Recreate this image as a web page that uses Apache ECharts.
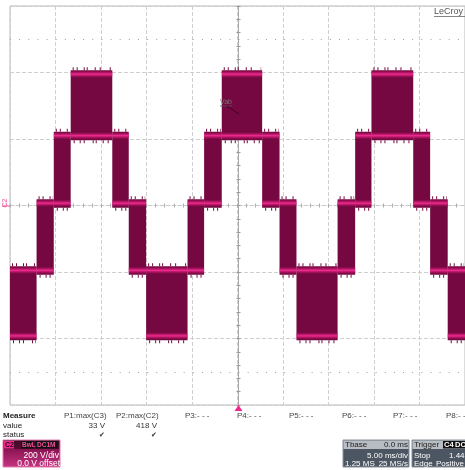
<!DOCTYPE html>
<html>
<head>
<meta charset="utf-8">
<script src="https://cdn.jsdelivr.net/npm/echarts@6/dist/echarts.min.js"></script>
<style>
html,body{margin:0;padding:0;background:#fff;}
#c{width:465px;height:470px;}
</style>
</head>
<body>
<div id="c"></div>
<script>
// ---- data (time in ms, voltage in V) ----
const segStart = [-25, -22.08, -20.19, -18.33, -13.76, -11.95, -10.04, -5.49, -3.67, -1.73, 2.71, 4.62, 6.48, 11.0, 12.93, 14.72, 19.31, 21.17, 23.1];
const segEnd   = [-22.08, -20.19, -18.33, -13.76, -11.95, -10.04, -5.49, -3.67, -1.73, 2.71, 4.62, 6.48, 11.0, 12.93, 14.72, 19.31, 21.17, 23.1, 25];
// switching levels: +2 ≈ 395 V, +1 ≈ 210 V, 0 ≈ 7 V, -1 ≈ -195 V, -2 ≈ -392 V
const segLow   = [-392, -195, 7, 210, 7, -195, -392, -195, 7, 210, 7, -195, -392, -195, 7, 210, 7, -195, -392];
const segHigh  = [-195, 7, 210, 395, 210, 7, -195, 7, 210, 395, 210, 7, -195, 7, 210, 395, 210, 7, -195];
const dottedLevels = [500, -500];
const measureNames = ['P1:max(C3)', 'P2:max(C2)', 'P3:- - -', 'P4:- - -', 'P5:- - -', 'P6:- - -', 'P7:- - -', 'P8:- - -'];
const measureValues = ['33 V', '418 V'];

const DARK = '#760841';
const segData = segStart.map((s, i) => [s, segEnd[i], segLow[i], segHigh[i]]);

function renderFill(params, api) {
  const t0 = api.value(0), t1 = api.value(1), lo = api.value(2), hi = api.value(3);
  const a = api.coord([t0, hi]), b = api.coord([t1, lo]);
  const x = a[0], w = b[0] - a[0];
  const yTop = a[1] - 4, yBot = b[1] + 4.5;
  return {
    type: 'group',
    children: [
      {type: 'rect', shape: {x: x, y: yTop, width: w, height: yBot - yTop}, style: {fill: DARK}},
      {type: 'line', shape: {x1: x + 2, y1: yTop - 1.5, x2: x + w - 1, y2: yTop - 1.5},
        style: {stroke: DARK, lineWidth: 3, lineDash: [1, 3, 1, 6, 1, 2, 1, 7, 1, 4, 1, 9]}},
      {type: 'line', shape: {x1: x + 3, y1: yBot + 1.5, x2: x + w - 1, y2: yBot + 1.5},
        style: {stroke: DARK, lineWidth: 3, lineDash: [1, 5, 1, 3, 1, 8, 1, 2, 1, 6, 1, 4]}}
    ]
  };
}
function bandRect(x, w, c) {
  return {
    type: 'rect', shape: {x: x, y: c - 3.5, width: w, height: 7},
    style: {fill: new echarts.graphic.LinearGradient(0, 0, 0, 1, [
      {offset: 0, color: 'rgba(200,20,110,0)'},
      {offset: 0.3, color: 'rgba(222,30,125,0.65)'},
      {offset: 0.5, color: 'rgba(245,48,150,0.95)'},
      {offset: 0.7, color: 'rgba(222,30,125,0.65)'},
      {offset: 1, color: 'rgba(200,20,110,0)'}
    ])}
  };
}
function renderBands(params, api) {
  const t0 = api.value(0), t1 = api.value(1), lo = api.value(2), hi = api.value(3);
  const a = api.coord([t0, hi]), b = api.coord([t1, lo]);
  const x = a[0], w = b[0] - a[0];
  return {type: 'group', children: [bandRect(x, w, a[1]), bandRect(x, w, b[1])]};
}

const chart = echarts.init(document.getElementById('c'), null, {renderer: 'canvas'});
const FONT = 'Liberation Sans, Arial, sans-serif';

function txt(x, y, s, opt) {
  return Object.assign({type: 'text', x: x, y: y, silent: true, z: 100,
    style: Object.assign({text: s, fill: '#333', font: '8px ' + FONT, textVerticalAlign: 'middle'}, opt || {})});
}
function shape(o) { o.z = 100; o.silent = true; return o; }

const graphics = [];
// LeCroy
graphics.push(txt(434, 12, 'LeCroy', {fill: '#555', font: '9px ' + FONT}));
graphics.push(shape({type: 'line', shape: {x1: 434, y1: 16.5, x2: 466, y2: 16.5}, style: {stroke: '#666', lineWidth: 0.8}}));
// C2 marker on left
graphics.push({type: 'text', x: 5.5, y: 203, rotation: Math.PI / 2, z: 100, style: {text: 'C2', fill: '#f0509a', font: '7px ' + FONT, textAlign: 'center', textVerticalAlign: 'middle'}});
graphics.push(shape({type: 'line', shape: {x1: 2, y1: 206, x2: 10, y2: 206}, style: {stroke: '#f0509a', lineWidth: 1}}));
// Vab label
graphics.push(txt(220, 102, 'Vab', {fill: '#777', font: '7px ' + FONT}));
graphics.push(shape({type: 'line', shape: {x1: 220, y1: 106, x2: 232, y2: 106}, style: {stroke: '#555', lineWidth: 0.8}}));
graphics.push(shape({type: 'line', shape: {x1: 227, y1: 106, x2: 239, y2: 114}, style: {stroke: '#2a0016', lineWidth: 0.8}}));
// trigger marker
graphics.push(shape({type: 'polygon', shape: {points: [[238.5, 405], [234.5, 411], [242.5, 411]]}, style: {fill: '#f0288c'}}));
// measure table
graphics.push(txt(3, 416, 'Measure', {fill: '#222', font: 'bold 8px ' + FONT}));
graphics.push(txt(3, 425.5, 'value', {fill: '#222'}));
graphics.push(txt(3, 434.5, 'status', {fill: '#222'}));
const mx = [64, 116, 185, 237, 289, 342, 393, 446];
measureNames.forEach((n, i) => graphics.push(txt(mx[i], 416, n, {fill: '#444'})));
graphics.push(txt(105, 425.5, measureValues[0], {textAlign: 'right', fill: '#333'}));
graphics.push(txt(157, 425.5, measureValues[1], {textAlign: 'right', fill: '#333'}));
graphics.push(txt(102, 435, '\u2714', {textAlign: 'center', fill: '#333', font: '7px DejaVu Sans'}));
graphics.push(txt(154, 435, '\u2714', {textAlign: 'center', fill: '#333', font: '7px DejaVu Sans'}));
// C2 box
graphics.push(shape({type: 'rect', shape: {x: 3, y: 440, width: 57, height: 27}, style: {
  fill: new echarts.graphic.LinearGradient(0, 0, 0, 1, [
    {offset: 0, color: '#3c0a24'}, {offset: 0.33, color: '#5a0c34'}, {offset: 0.34, color: '#8a1452'}, {offset: 1, color: '#c83482'}]),
  stroke: '#e27ab0', lineWidth: 1}}));
graphics.push(shape({type: 'rect', shape: {x: 4, y: 441, width: 10, height: 7.5}, style: {fill: '#f0288c'}}));
graphics.push(txt(5, 445, 'C2', {fill: '#2a0016', font: 'bold 7px ' + FONT}));
graphics.push(shape({type: 'rect', shape: {x: 21, y: 441, width: 13, height: 7.5}, style: {fill: '#111'}}));
graphics.push(shape({type: 'rect', shape: {x: 35.5, y: 441, width: 22.5, height: 7.5}, style: {fill: '#111'}}));
graphics.push(txt(22, 445, 'BwL', {fill: '#f0509a', font: 'bold 6.5px ' + FONT}));
graphics.push(txt(37, 445, 'DC1M', {fill: '#f0509a', font: 'bold 6.5px ' + FONT}));
graphics.push(txt(59, 455.5, '200 V/div', {fill: '#fff', textAlign: 'right', font: '8.5px ' + FONT}));
graphics.push(txt(60, 464, '0.0 V offset', {fill: '#fff', textAlign: 'right', font: '8.5px ' + FONT}));
// Tbase box
graphics.push(shape({type: 'rect', shape: {x: 343, y: 440, width: 66, height: 27}, style: {fill: '#4c5662', stroke: '#8a929c', lineWidth: 1}}));
graphics.push(shape({type: 'rect', shape: {x: 343.5, y: 440.5, width: 65, height: 8.5}, style: {fill: '#b8bdc3'}}));
graphics.push(txt(345, 445, 'Tbase', {fill: '#222', font: '8px ' + FONT}));
graphics.push(txt(408, 445, '0.0 ms', {fill: '#222', textAlign: 'right', font: '8px ' + FONT}));
graphics.push(txt(408, 455.5, '5.00 ms/div', {fill: '#fff', textAlign: 'right', font: '8px ' + FONT}));
graphics.push(txt(345, 464, '1.25 MS', {fill: '#fff', font: '8px ' + FONT}));
graphics.push(txt(408, 464, '25 MS/s', {fill: '#fff', textAlign: 'right', font: '8px ' + FONT}));
// Trigger box
graphics.push(shape({type: 'rect', shape: {x: 412, y: 440, width: 60, height: 27}, style: {fill: '#4c5662', stroke: '#8a929c', lineWidth: 1}}));
graphics.push(shape({type: 'rect', shape: {x: 412.5, y: 440.5, width: 59, height: 8.5}, style: {fill: '#b8bdc3'}}));
graphics.push(txt(414, 445, 'Trigger', {fill: '#222', font: '8px ' + FONT}));
graphics.push(shape({type: 'rect', shape: {x: 443, y: 441, width: 23, height: 7.5}, style: {fill: '#111'}}));
graphics.push(txt(444, 445, 'C4', {fill: '#fff', font: 'bold 7.5px ' + FONT}));
graphics.push(txt(455, 445, 'DC', {fill: '#fff', font: 'bold 7.5px ' + FONT}));
graphics.push(txt(414, 455.5, 'Stop', {fill: '#fff', font: '8px ' + FONT}));
graphics.push(txt(449, 455.5, '1.44 A', {fill: '#fff', font: '8px ' + FONT}));
graphics.push(txt(414, 464, 'Edge', {fill: '#fff', font: '8px ' + FONT}));
graphics.push(txt(436, 464, 'Positive', {fill: '#fff', font: '8px ' + FONT}));

const hiddenAxis = {axisLabel: {show: false}, splitLine: {show: false}};
chart.setOption({
  animation: false,
  backgroundColor: '#fff',
  grid: {left: 10, top: 6, width: 457, height: 399, show: true, borderColor: '#b8b8b8', borderWidth: 1},
  xAxis: [
    {type: 'value', min: -25, max: 25, interval: 5, axisLine: {show: false}, axisTick: {show: false}, axisLabel: {show: false},
      splitLine: {show: true, lineStyle: {color: '#cfcfcf', type: [4, 2]}}},
    Object.assign({type: 'value', min: -25, max: 25, interval: 5, position: 'bottom', offset: -199.5,
      axisLine: {show: true, onZero: false, lineStyle: {color: '#c8c8c8', type: [4, 2]}},
      axisTick: {show: true, inside: true, length: 2, lineStyle: {color: '#aaa'}},
      minorTick: {show: true, splitNumber: 5, length: 2, lineStyle: {color: '#aaa'}}}, hiddenAxis),
    Object.assign({type: 'value', min: -25, max: 25, interval: 5, position: 'bottom', offset: -199.5,
      axisLine: {show: false, onZero: false},
      axisTick: {show: true, inside: false, length: 2, lineStyle: {color: '#aaa'}},
      minorTick: {show: true, splitNumber: 5, length: 2, lineStyle: {color: '#aaa'}}}, hiddenAxis)
  ],
  yAxis: [
    {type: 'value', min: -600, max: 600, interval: 200, axisLine: {show: false}, axisTick: {show: false}, axisLabel: {show: false},
      splitLine: {show: true, lineStyle: {color: '#cfcfcf', type: [4, 2]}}},
    Object.assign({type: 'value', min: -600, max: 600, interval: 200, position: 'left', offset: -228.5,
      axisLine: {show: true, onZero: false, lineStyle: {color: '#a8a8a8'}},
      axisTick: {show: true, inside: true, length: 2, lineStyle: {color: '#999'}},
      minorTick: {show: true, splitNumber: 5, length: 2, lineStyle: {color: '#999'}}}, hiddenAxis),
    Object.assign({type: 'value', min: -600, max: 600, interval: 200, position: 'left', offset: -228.5,
      axisLine: {show: false, onZero: false},
      axisTick: {show: true, inside: false, length: 2, lineStyle: {color: '#999'}},
      minorTick: {show: true, splitNumber: 5, length: 2, lineStyle: {color: '#999'}}}, hiddenAxis)
  ],
  series: [
    {type: 'custom', name: 'fill', renderItem: renderFill, data: segData, clip: true, silent: true, z: 3,
      markLine: {silent: true, symbol: 'none', label: {show: false}, animation: false,
        lineStyle: {color: '#a0a0a0', type: [1, 8.14], width: 1},
        data: dottedLevels.map(v => ({yAxis: v}))}},
    {type: 'custom', name: 'bands', renderItem: renderBands, data: segData, clip: true, silent: true, z: 4}
  ],
  graphic: graphics
});
</script>
</body>
</html>
